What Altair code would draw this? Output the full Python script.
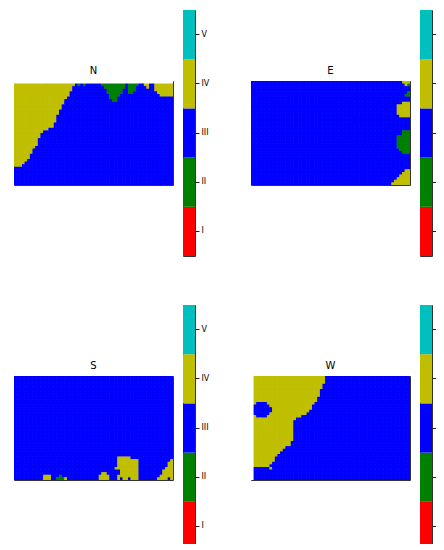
import altair as alt
import pandas as pd

N_ROWS, N_COLS = 40, 60
CLASSES = ["I", "II", "III", "IV", "V"]
CLASS_COLORS = ["#ff0000", "#008000", "#0000ff", "#bfbf00", "#00bfbf"]
BLANK = "blank"
BLANK_COLOR = "#ffffff"
PANEL_TITLES = ["N", "E", "S", "W"]

# ---------------- N panel ----------------
# yellow (IV) region on the left: for each row, first column that is no longer yellow
N_YELLOW_END = [23, 23, 22, 22, 21, 21, 20, 19, 19, 18, 18, 17, 17, 16, 16, 16, 15,
                15, 13, 11, 10, 10, 9, 9, 9, 8, 7, 7, 6, 6, 5, 4, 3]
# green (II) tongues hanging from the top edge: column and depth in rows
N_GREEN_COLS = [24, 26, 27, 32, 33, 34, 35, 36, 37, 38, 39, 40, 41, 43, 44, 45, 46]
N_GREEN_DEPTH = [2, 2, 1, 1, 2, 3, 5, 7, 8, 8, 6, 5, 3, 5, 5, 4, 2]
# other runs: (row, first col, last col, class)
N_RUNS = [
    (0, 49, 59, "IV"), (1, 49, 50, "IV"), (1, 53, 59, "IV"), (2, 50, 50, "IV"),
    (2, 53, 59, "IV"), (3, 53, 59, "IV"), (4, 54, 59, "IV"), (5, 55, 59, "IV"),
    (0, 51, 52, "III"), (1, 51, 52, "III"), (2, 51, 52, "III"),
]
N_BLANK_ROWS = [0]

# ---------------- E panel ----------------
E_RUNS = [
    (0, 57, 59, "IV"), (1, 58, 58, "IV"), (1, 59, 59, "II"),
    (4, 59, 59, "II"), (5, 58, 59, "II"),
    (8, 57, 59, "IV"), (9, 55, 59, "IV"), (10, 55, 59, "IV"), (11, 55, 59, "IV"),
    (12, 55, 59, "IV"), (13, 56, 59, "IV"),
    (19, 57, 59, "II"), (20, 57, 59, "II"), (21, 55, 59, "II"), (22, 55, 59, "II"),
    (23, 55, 59, "II"), (24, 55, 59, "II"), (25, 55, 59, "II"), (26, 56, 59, "II"),
    (27, 57, 59, "II"),
    (34, 58, 59, "IV"), (35, 57, 59, "IV"), (36, 56, 59, "IV"), (37, 55, 59, "IV"),
    (38, 54, 59, "IV"), (39, 53, 59, "IV"),
]

# ---------------- S panel ----------------
S_RUNS = [
    (38, 11, 13, "IV"), (39, 11, 13, "IV"),
    (38, 17, 17, "II"), (39, 16, 18, "II"), (39, 19, 19, "IV"),
    (37, 33, 34, "IV"), (38, 32, 35, "IV"), (39, 32, 35, "IV"),
    (31, 39, 43, "IV"), (32, 39, 46, "IV"), (33, 39, 46, "IV"), (34, 39, 46, "IV"),
    (35, 38, 46, "IV"), (36, 40, 46, "IV"), (37, 40, 46, "IV"), (38, 39, 46, "IV"),
    (39, 39, 46, "IV"), (39, 40, 40, "III"), (39, 43, 43, "III"),
    (32, 59, 59, "IV"), (33, 58, 59, "IV"), (34, 58, 59, "IV"), (35, 57, 59, "IV"),
    (36, 56, 59, "IV"), (37, 56, 59, "IV"), (38, 55, 59, "IV"), (39, 54, 59, "IV"),
    (39, 58, 58, "III"),
]

# ---------------- W panel ----------------
W_YELLOW_END = [28, 28, 28, 27, 27, 26, 26, 26, 25, 25, 24, 23, 23, 22, 21, 19, 17,
                16, 16, 16, 16, 16, 16, 16, 16, 15, 15, 13, 12, 11, 10, 9, 9, 8, 7]
W_RUNS = [
    (10, 2, 5, "III"), (11, 1, 6, "III"), (12, 1, 7, "III"), (13, 1, 7, "III"),
    (14, 1, 6, "III"), (15, 2, 5, "III"), (35, 7, 7, "IV"),
]
W_BLANK_COLS = [0]


def blank_grid():
    return [["III"] * N_COLS for _ in range(N_ROWS)]


def fill_left(g, ends, cls, start=0):
    for r, e in enumerate(ends):
        for c in range(start, e):
            g[r][c] = cls


def fill_top(g, cols, depths, cls):
    for c, d in zip(cols, depths):
        for r in range(d):
            g[r][c] = cls


def fill_runs(g, runs):
    for r, c0, c1, cls in runs:
        for c in range(c0, c1 + 1):
            g[r][c] = cls


gN = blank_grid()
fill_left(gN, N_YELLOW_END, "IV")
fill_top(gN, N_GREEN_COLS, N_GREEN_DEPTH, "II")
fill_runs(gN, N_RUNS)
for r in N_BLANK_ROWS:
    gN[r] = [BLANK] * N_COLS

gE = blank_grid()
fill_runs(gE, E_RUNS)

gS = blank_grid()
fill_runs(gS, S_RUNS)

gW = blank_grid()
fill_left(gW, W_YELLOW_END, "IV", start=1)
fill_runs(gW, W_RUNS)
for c in W_BLANK_COLS:
    for r in range(N_ROWS):
        gW[r][c] = BLANK


def grid_to_df(g):
    # every cell is covered twice: once by its horizontal run, once by its vertical run,
    # so same-class neighbours never leave an anti-aliasing seam between them
    recs = []
    for r, row in enumerate(g):
        c0 = 0
        for c in range(1, N_COLS + 1):
            if c == N_COLS or row[c] != row[c0]:
                recs.append({"x0": c0, "x1": c, "y0": r, "y1": r + 1, "cls": row[c0]})
                c0 = c
    for c in range(N_COLS):
        r0 = 0
        for r in range(1, N_ROWS + 1):
            if r == N_ROWS or g[r][c] != g[r0][c]:
                recs.append({"x0": c, "x1": c + 1, "y0": r0, "y1": r, "cls": g[r0][c]})
                r0 = r
    return pd.DataFrame(recs)


color_scale = alt.Scale(domain=CLASSES + [BLANK], range=CLASS_COLORS + [BLANK_COLOR])
FONT = "DejaVu Sans"


def heat(g, title):
    df = grid_to_df(g)
    return alt.Chart(df).mark_rect().encode(
        x=alt.X("x0:Q", scale=alt.Scale(domain=[0, N_COLS], nice=False, zero=False), axis=None),
        x2="x1:Q",
        y=alt.Y("y0:Q", scale=alt.Scale(domain=[0, N_ROWS], reverse=True, nice=False, zero=False), axis=None),
        y2="y1:Q",
        color=alt.Color("cls:N", scale=color_scale, legend=None),
    ).properties(
        width=159, height=104,
        title=alt.Title(title, fontSize=10, fontWeight="normal", font=FONT, color="black", offset=5),
    )


def cbar():
    df = pd.DataFrame({"cls": CLASSES})
    return alt.Chart(df).mark_rect().encode(
        y=alt.Y("cls:N", sort=CLASSES[::-1],
                scale=alt.Scale(paddingInner=0, paddingOuter=0),
                axis=alt.Axis(orient="right", title=None, domain=False, grid=False,
                              tickSize=4, tickColor="#222222", labelFontSize=8, labelFont=FONT,
                              labelColor="#000000", labelPadding=2, labelAngle=0)),
        color=alt.Color("cls:N", scale=color_scale, legend=None),
    ).properties(width=12, height=246)


def panel(g, title):
    return alt.hconcat(heat(g, title), cbar(), spacing=10, bounds="flush", center=True)


top = alt.hconcat(panel(gN, PANEL_TITLES[0]), panel(gE, PANEL_TITLES[1]), spacing=40)
bottom = alt.hconcat(panel(gS, PANEL_TITLES[2]), panel(gW, PANEL_TITLES[3]), spacing=40)
chart = alt.vconcat(top, bottom, spacing=47).properties(
    padding={"left": 5, "top": 1, "right": -11, "bottom": -8}
).configure_view(stroke="#333333", strokeWidth=1)

chart.save("out.html", embed_options={"renderer": "svg", "actions": False})
